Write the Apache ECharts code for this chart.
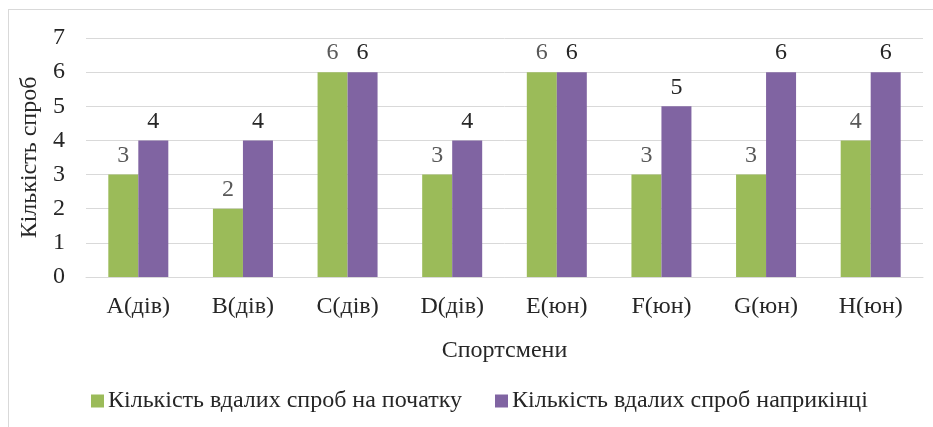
<!DOCTYPE html>
<html>
<head>
<meta charset="utf-8">
<script src="https://cdn.jsdelivr.net/npm/echarts@6/dist/echarts.min.js"></script>
<style>
  html, body { margin: 0; padding: 0; background: #fff; }
  #wrap { position: relative; width: 933px; height: 427px; overflow: hidden; }
  #frame { position: absolute; left: 8px; top: 9px; width: 940px; height: 430px; border: 1px solid #d9d9d9; box-sizing: border-box; }
  #chart { position: absolute; left: 0; top: 0; width: 933px; height: 427px; }
</style>
</head>
<body>
<div id="wrap">
  <div id="frame"></div>
  <div id="chart"></div>
</div>
<script>
// дані діаграми
const categories = ["A(дів)", "B(дів)", "C(дів)", "D(дів)", "E(юн)", "F(юн)", "G(юн)", "H(юн)"];
const startValues = [3, 2, 6, 3, 6, 3, 3, 4];
const endValues = [4, 4, 6, 4, 6, 5, 6, 6];
const seriesNames = ["Кількість вдалих спроб на початку", "Кількість вдалих спроб наприкінці"];

const font = "Liberation Serif";
const fs = 24;
const chart = echarts.init(document.getElementById("chart"));

chart.setOption({
  animation: false,
  textStyle: { fontFamily: font },
  grid: { left: 86, right: 10, top: 38, bottom: 150, containLabel: false },
  legend: {
    top: 384,
    left: 86,
    itemWidth: 13,
    itemHeight: 13,
    itemGap: 33,
    icon: "rect",
    textStyle: { fontFamily: font, fontSize: fs, color: "#262626", padding: [0, 0, 0, -1] },
    data: seriesNames,
  },
  xAxis: {
    type: "category",
    data: categories,
    name: "Спортсмени",
    nameLocation: "middle",
    nameGap: 62,
    nameTextStyle: { fontFamily: font, fontSize: fs, color: "#262626" },
    axisLine: { lineStyle: { color: "#d9d9d9", width: 1 } },
    axisTick: { show: false },
    axisLabel: { fontFamily: font, fontSize: fs, color: "#262626", margin: 18 },
  },
  yAxis: {
    type: "value",
    min: 0,
    max: 7,
    interval: 1,
    name: "Кількість спроб",
    nameLocation: "middle",
    nameGap: 42,
    nameTextStyle: { fontFamily: font, fontSize: fs, color: "#262626" },
    axisLine: { show: false },
    axisTick: { show: false },
    axisLabel: { fontFamily: font, fontSize: fs, color: "#262626", margin: 21 },
    splitLine: { lineStyle: { color: "#d9d9d9", width: 1 } },
  },
  series: [
    {
      name: seriesNames[0],
      type: "bar",
      data: startValues,
      barWidth: 30,
      barGap: "0%",
      itemStyle: { color: "#9bbb59" },
      label: { show: true, position: "top", distance: 7, fontFamily: font, fontSize: fs, color: "#595959" },
    },
    {
      name: seriesNames[1],
      type: "bar",
      data: endValues,
      barWidth: 30,
      itemStyle: { color: "#8064a2" },
      label: { show: true, position: "top", distance: 7, fontFamily: font, fontSize: fs, color: "#262626" },
    },
  ],
});
</script>
</body>
</html>
